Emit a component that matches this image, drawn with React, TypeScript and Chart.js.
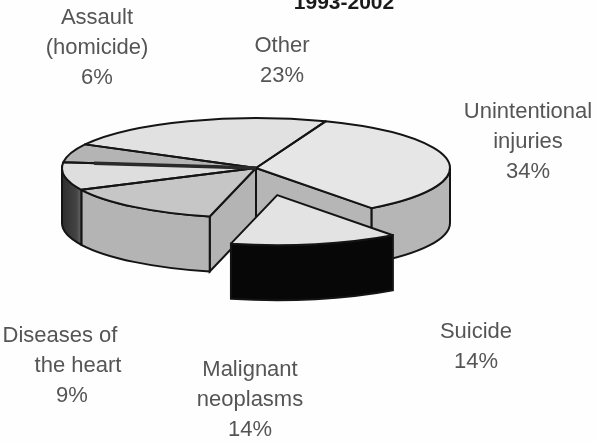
import React, { useEffect, useRef } from "react";
import { Chart, registerables } from "chart.js";

Chart.register(...registerables);

const categories = ["Unintentional injuries", "Suicide", "Malignant neoplasms", "Diseases of the heart", "Assault (homicide)", "Other"];
const shares = [34, 14, 14, 9, 6, 23];
const labelLines = [
  ["Unintentional", "injuries"],
  ["Suicide"],
  ["Malignant", "neoplasms"],
  ["Diseases of", "the heart"],
  ["Assault", "(homicide)"],
  ["Other"],
];
const labelCenters = [
  [528, 112],
  [476, 332],
  [250, 370],
  [60, 336],
  [97, 18],
  [282, 46],
];
const topColors = ["#e6e6e6", "#e3e3e3", "#c6c6c6", "#dedede", "#b4b4b4", "#e1e1e1"];
const wallColors = ["#b6b6b6", "#070707", "#b4b4b4", "#3a3a3a", "#3a3a3a", "#b6b6b6"];
const titleText = "1993-2002";

const CX = 256, CY = 168, RX = 194, RY = 50, DEPTH = 55;
const EXPLODED_INDEX = 1, EXPLODE = 83;
const INK = "#141414";

const piePlugin = {
  id: "tiltedPie",
  afterDatasetsUpdate(chart: any) {
    const a = chart.getDatasetMeta(0).data[EXPLODED_INDEX];
    const mid = (a.startAngle + a.endAngle) / 2;
    a.x += Math.cos(mid) * EXPLODE;
    a.y += Math.sin(mid) * EXPLODE;
  },
  beforeDatasetsDraw(chart: any) {
    const { ctx } = chart;
    const arcs = chart.getDatasetMeta(0).data;
    const R = arcs[0].outerRadius;
    const sx = RX / R, sy = RY / R;
    ctx.save();
    ctx.lineWidth = 2;
    ctx.strokeStyle = INK;
    const pt = (ang: number): [number, number] => [CX + RX * Math.cos(ang), CY + RY * Math.sin(ang)];
    const norm = (a: number) => {
      let v = a;
      while (v < -Math.PI) v += 2 * Math.PI;
      while (v > Math.PI) v -= 2 * Math.PI;
      return v;
    };
    const cutFace = (ang: number, color: string) => {
      const p = pt(ang);
      ctx.beginPath();
      ctx.moveTo(CX, CY);
      ctx.lineTo(p[0], p[1]);
      ctx.lineTo(p[0], p[1] + DEPTH);
      ctx.lineTo(CX, CY + DEPTH);
      ctx.closePath();
      ctx.fillStyle = color;
      ctx.fill();
      ctx.stroke();
    };
    const outerWall = (a: any, color: any) => {
      const s = norm(a.startAngle);
      let e = norm(a.endAngle);
      if (e < s) e += 2 * Math.PI;
      const from = Math.max(s, 0), to = Math.min(e, Math.PI);
      if (to <= from) return;
      const ox = (a.x - arcs[0].x) * sx, oy = (a.y - arcs[0].y) * sy;
      ctx.beginPath();
      ctx.ellipse(CX + ox, CY + oy, RX, RY, 0, from, to);
      ctx.ellipse(CX + ox, CY + oy + DEPTH, RX, RY, 0, to, from, true);
      ctx.closePath();
      ctx.fillStyle = color;
      ctx.fill();
      ctx.stroke();
    };
    cutFace(arcs[2].startAngle, wallColors[2]);
    cutFace(arcs[0].endAngle, wallColors[0]);
    const sheen = ctx.createLinearGradient(CX - RX, 0, CX - RX + 24, 0);
    sheen.addColorStop(0, "#2e2e2e");
    sheen.addColorStop(0.6, "#444444");
    sheen.addColorStop(1, "#8a8a8a");
    arcs.forEach((a: any, i: number) => {
      if (i !== EXPLODED_INDEX) outerWall(a, i === 3 ? sheen : wallColors[i]);
    });
    outerWall(arcs[EXPLODED_INDEX], wallColors[EXPLODED_INDEX]);
    ctx.restore();

    ctx.save();
    ctx.translate(CX, CY);
    ctx.scale(sx, sy);
    ctx.translate(-arcs[0].x, -arcs[0].y);
  },
  afterDatasetsDraw(chart: any) {
    const { ctx } = chart;
    ctx.restore();
    const arcs = chart.getDatasetMeta(0).data;
    const R = arcs[0].outerRadius;
    const sx = RX / R, sy = RY / R;
    ctx.save();
    ctx.strokeStyle = INK;
    ctx.lineWidth = 2;
    ctx.lineJoin = "round";
    arcs.forEach((a: any) => {
      const ox = (a.x - arcs[0].x) * sx, oy = (a.y - arcs[0].y) * sy;
      ctx.beginPath();
      ctx.moveTo(CX + ox, CY + oy);
      ctx.ellipse(CX + ox, CY + oy, RX, RY, 0, a.startAngle, a.endAngle);
      ctx.closePath();
      ctx.stroke();
    });
    // heavy stroke along the Diseases / Assault boundary, as printed
    const b = arcs[4].startAngle;
    ctx.lineWidth = 3.5;
    ctx.strokeStyle = "#2a2a2a";
    ctx.beginPath();
    ctx.moveTo(CX, CY);
    ctx.lineTo(CX + 0.84 * RX * Math.cos(b), CY + 0.84 * RY * Math.sin(b));
    ctx.stroke();

    ctx.textAlign = "center";
    ctx.textBaseline = "middle";
    ctx.fillStyle = "#555555";
    ctx.font = '22px "Liberation Sans", Arial, sans-serif';
    labelLines.forEach((lines, i) => {
      const [x, y0] = labelCenters[i];
      const gap = 30;
      lines.forEach((t, j) => ctx.fillText(t, x + (i === 3 ? j * 18 : 0), y0 + j * gap));
      ctx.fillText(shares[i] + "%", x + (i === 3 ? 12 : 0), y0 + lines.length * gap);
    });
    ctx.fillStyle = "#1a1a1a";
    ctx.font = 'bold 21px "Liberation Sans", Arial, sans-serif';
    ctx.fillText(titleText, 344, 3);
    ctx.restore();
  },
};

export default function App() {
  const ref = useRef<HTMLCanvasElement>(null);
  useEffect(() => {
    const chart = new Chart(ref.current!, {
      type: "pie",
      data: {
        labels: categories,
        datasets: [
          {
            data: shares,
            backgroundColor: topColors,
            borderWidth: 0,
          },
        ],
      },
      options: {
        responsive: false,
        animation: false,
        rotation: 21,
        radius: 150,
        plugins: { legend: { display: false }, tooltip: { enabled: false }, title: { display: false } },
      } as any,
      plugins: [piePlugin as any],
    });
    return () => chart.destroy();
  }, []);
  return (
    <div style={{ position: "absolute", left: 0, top: 0, width: 597, height: 442, background: "#fefefe" }}>
      <canvas ref={ref} width={597} height={442} style={{ display: "block", filter: "blur(0.5px)" }} />
    </div>
  );
}
